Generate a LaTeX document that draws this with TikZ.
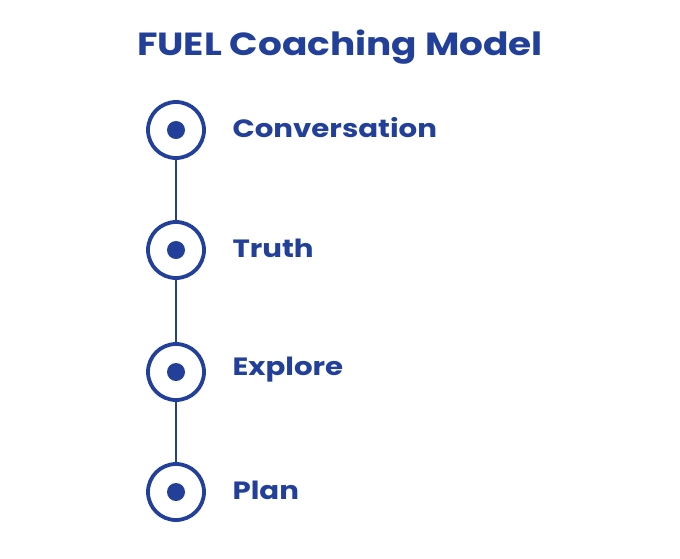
\documentclass[tikz,border=0pt]{standalone}
\usepackage{fontspec}
\setmainfont{Poppins}[BoldFont={* Bold},BoldFeatures={FakeStretch=1.17}]
\definecolor{fuel}{HTML}{22409A}
\begin{document}
\begin{tikzpicture}[x=1pt,y=-1pt,
  ring/.style={circle,draw=fuel,line width=3.8pt,minimum size=56pt,inner sep=0pt},
  dot/.style={circle,fill=fuel,minimum size=18pt,inner sep=0pt},
  lbl/.style={anchor=west,text=fuel,font=\bfseries\fontsize{25}{28}\selectfont}]
\useasboundingbox (0,0) rectangle (680,558);
\node[text=fuel,font=\bfseries\fontsize{32}{36}\selectfont] (title) at (340,47) {FUEL Coaching Model};
\foreach \n/\y/\t in {a/130/Conversation,b/250/Truth,c/372/Explore,d/492/Plan}{
  \node[ring] (r\n) at (176,\y) {};
  \node[dot] at (176,\y) {};
  \node[lbl] (l\n) at (229,\y-2) {\t};
}
\draw[fuel,line width=2pt] (ra) -- (rb);
\draw[fuel,line width=2pt] (rb) -- (rc);
\draw[fuel,line width=2pt] (rc) -- (rd);
\end{tikzpicture}
\end{document}
